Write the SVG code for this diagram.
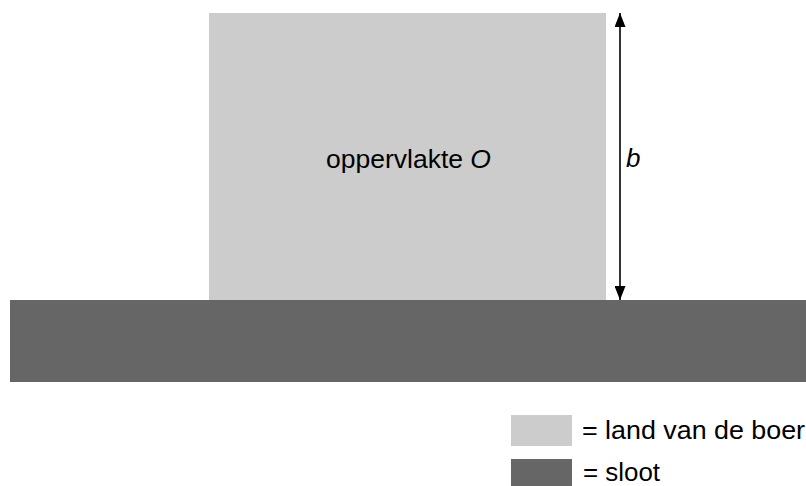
<svg xmlns="http://www.w3.org/2000/svg" width="806" height="486" viewBox="0 0 806 486">
<style>
.t{font-family:"Liberation Sans",Arial,sans-serif;font-size:26px;fill:#000}
.land{fill:#cccccc}
.sloot{fill:#666666}
</style>
<defs>
<marker id="ah" viewBox="0 0 14 11" refX="14" refY="5.5" markerWidth="14" markerHeight="11" markerUnits="userSpaceOnUse" orient="auto-start-reverse">
<path d="M0,0 L14,5.5 L0,11 Z" fill="#000"/>
</marker>
</defs>
<rect width="806" height="486" fill="#fff"/>
<g id="land">
<rect class="land" x="209" y="13" width="397" height="287"/>
<text class="t" x="326" y="168" textLength="165" lengthAdjust="spacingAndGlyphs">oppervlakte <tspan font-style="italic">O</tspan></text>
</g>
<g id="sloot">
<rect class="sloot" x="10" y="300" width="796" height="82"/>
</g>
<g id="connectors">
<line x1="620" y1="13" x2="620" y2="300" stroke="#000" stroke-width="1.6" marker-start="url(#ah)" marker-end="url(#ah)"/>
</g>
<g id="label-b">
<text class="t" x="626" y="167" font-style="italic">b</text>
</g>
<g id="legend">
<rect class="land" x="511" y="415" width="61" height="31"/>
<text class="t" x="582" y="439" textLength="223" lengthAdjust="spacingAndGlyphs">= land van de boer</text>
<rect class="sloot" x="511" y="459" width="61" height="27"/>
<text class="t" x="583" y="481" textLength="77" lengthAdjust="spacingAndGlyphs">= sloot</text>
</g>
</svg>
